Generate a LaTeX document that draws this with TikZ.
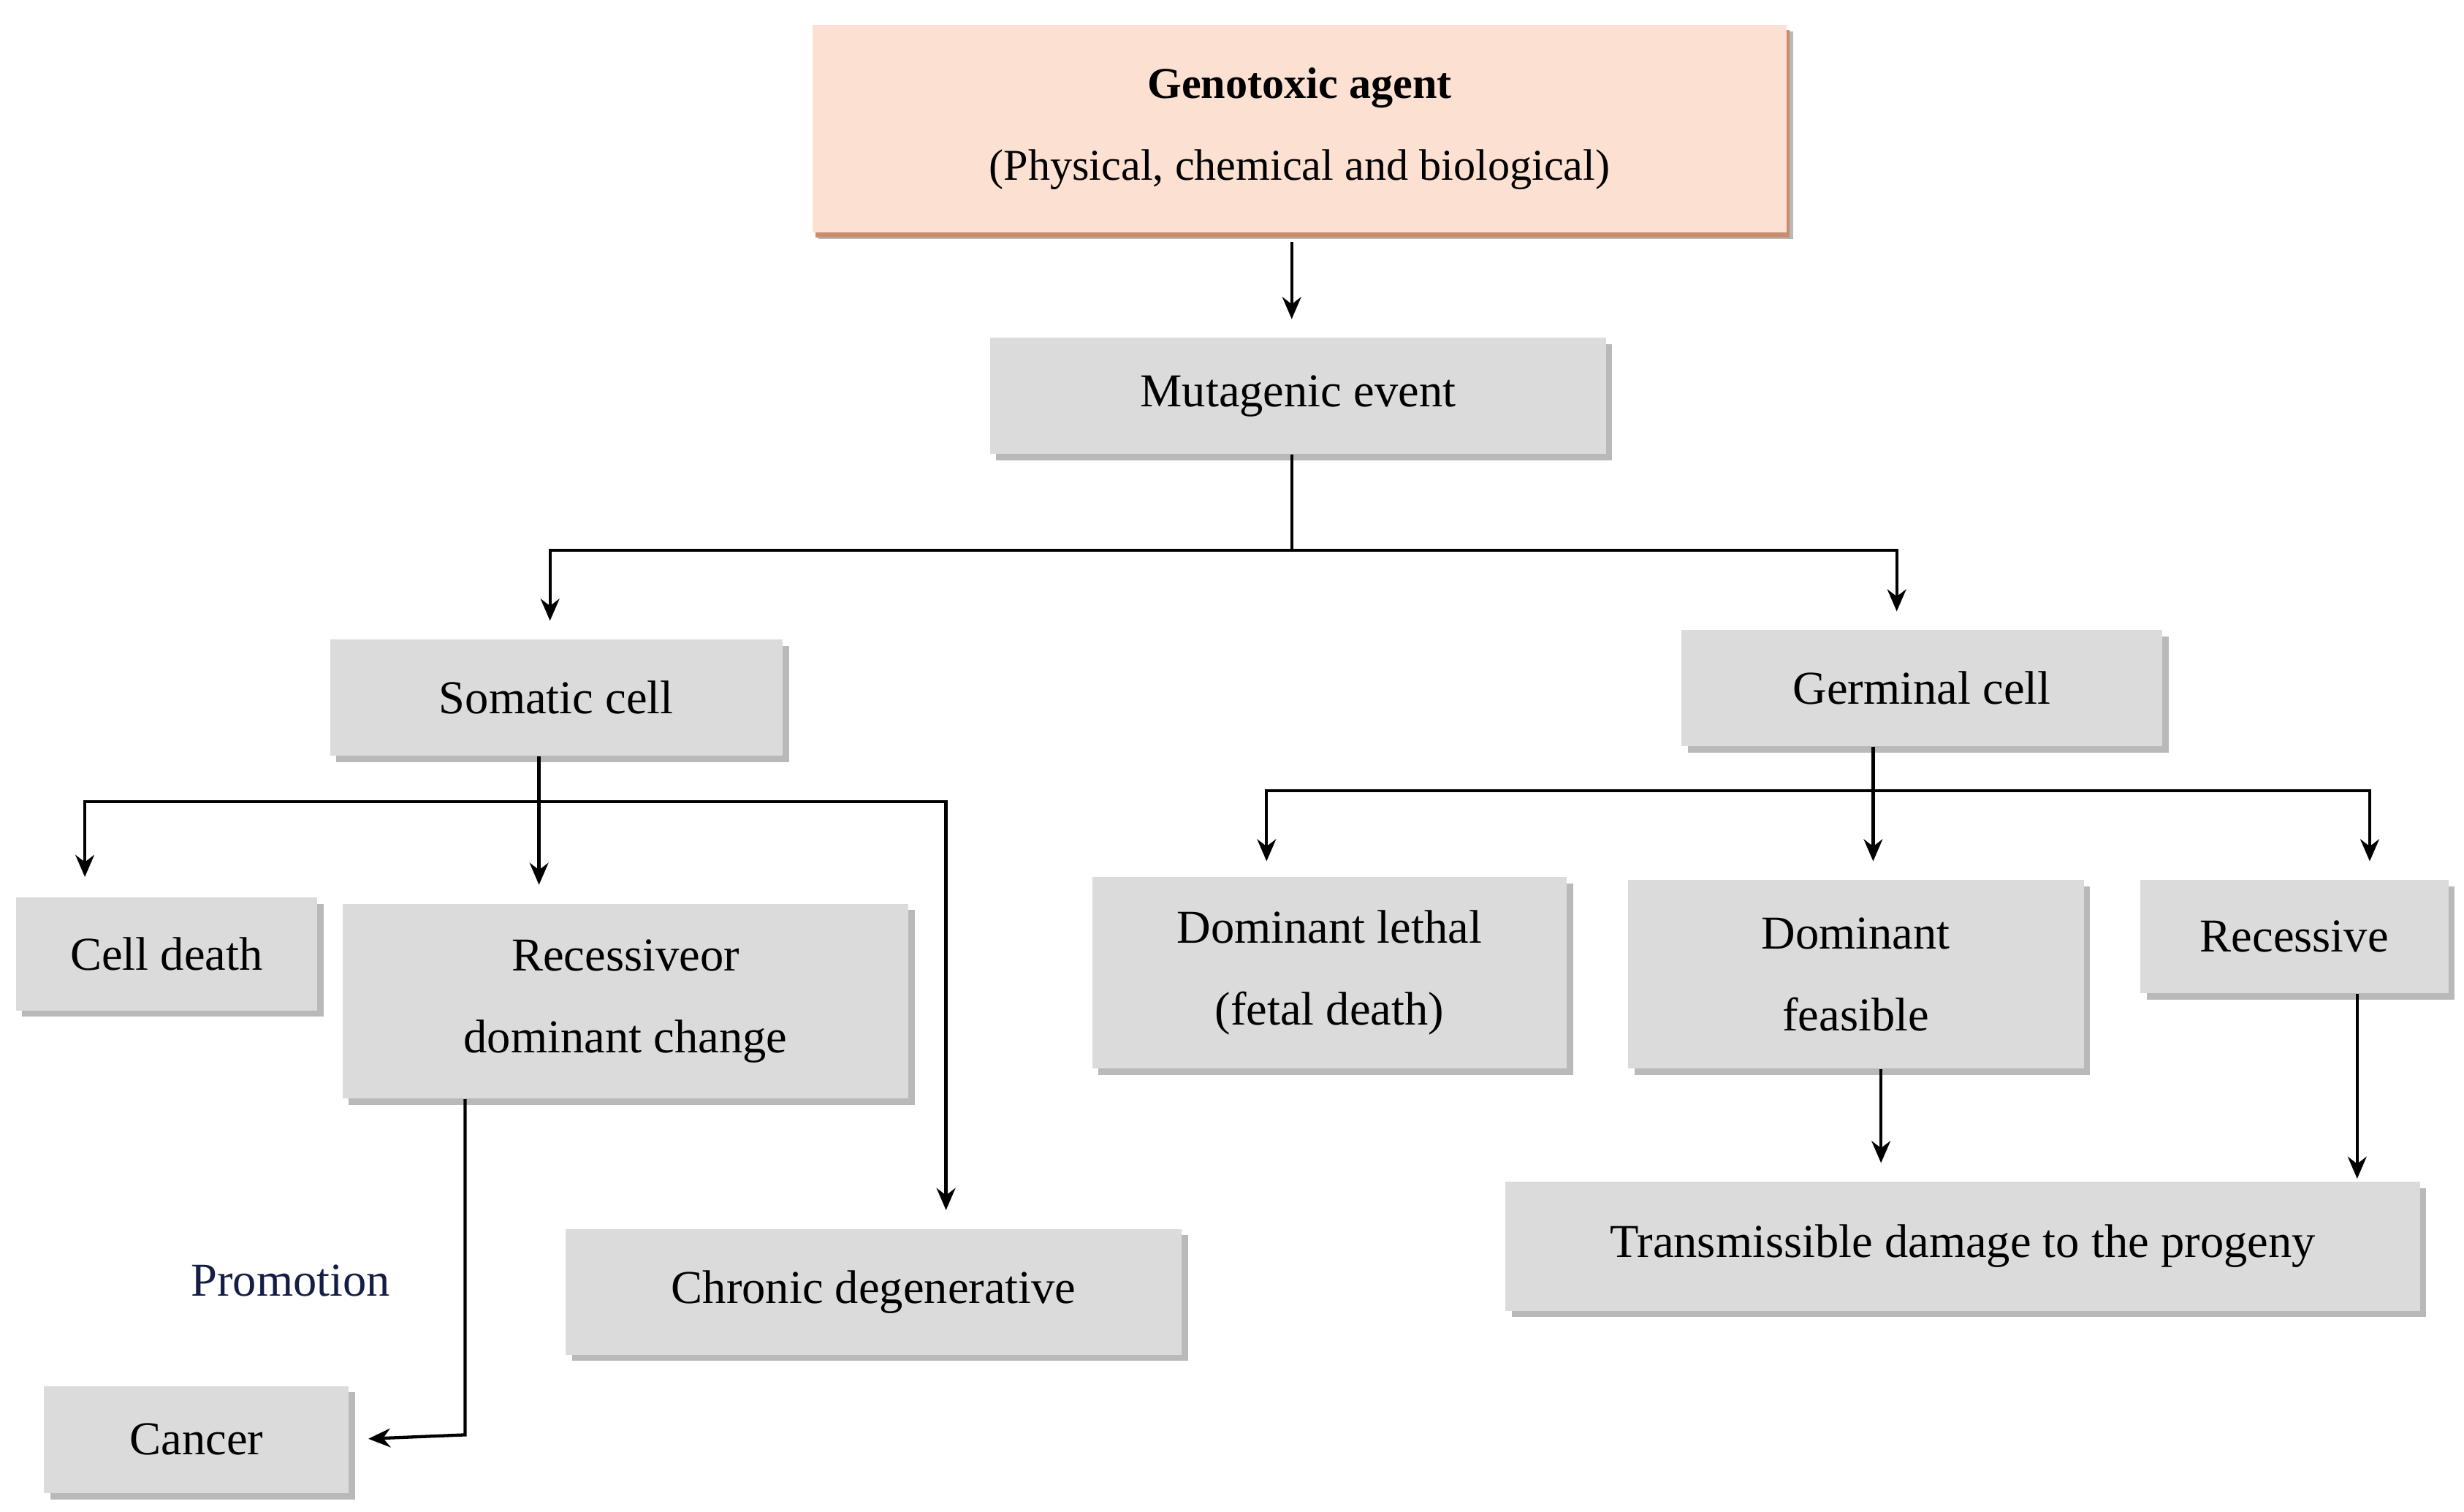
\documentclass[tikz,border=0pt]{standalone}
\usepackage{fontspec}
\setmainfont{Liberation Serif}
\usetikzlibrary{shadows,arrows.meta}
\begin{document}
\begin{tikzpicture}[x=0.5pt,y=-0.5pt,
 box/.style={fill=gray!28,inner sep=0pt,align=center,font=\fontsize{15}{26}\selectfont,
   drop shadow={shadow xshift=2pt,shadow yshift=-2pt,fill=gray!55,opacity=1}},
 arr/.style={-{Stealth[length=7pt,width=6pt]},line width=1pt,shorten >=6pt},
 ln/.style={line width=1pt}]
\useasboundingbox (0,0) rectangle (1568,962);
\node[box,fill={rgb,255:red,252;green,224;blue,210},minimum width=310pt,minimum height=66pt,
 drop shadow={shadow xshift=1pt,shadow yshift=-1.5pt,fill={rgb,255:red,200;green,140;blue,110},opacity=1},
 font=\fontsize{14}{26}\selectfont] (gen) at (827,82) {\textbf{Genotoxic agent}\\(Physical, chemical and biological)};
\node[box,minimum width=196pt,minimum height=37pt] (mut) at (826,252) {Mutagenic event};
\node[box,minimum width=144pt,minimum height=37pt] (som) at (354,444) {Somatic cell};
\node[box,minimum width=153pt,minimum height=37pt] (ger) at (1223,438) {Germinal cell};
\node[box,minimum width=96pt,minimum height=36pt] (cd) at (106,607) {Cell death};
\node[box,minimum width=180pt,minimum height=62pt] (rdc) at (398,637) {Recessiveor\\dominant change};
\node[box,minimum width=196pt,minimum height=40pt] (chr) at (556,822) {Chronic degenerative};
\node[box,minimum width=97pt,minimum height=34pt] (can) at (125,916) {Cancer};
\node[font=\fontsize{15}{18}\selectfont,text={rgb,255:red,20;green,30;blue,70}] (pro) at (185,815) {Promotion};
\node[box,minimum width=151pt,minimum height=61pt] (dl) at (846,619) {Dominant lethal\\(fetal death)};
\node[box,minimum width=145pt,minimum height=60pt] (df) at (1181,620) {Dominant\\feasible};
\node[box,minimum width=98pt,minimum height=36pt] (rec) at (1460,596) {Recessive};
\node[box,minimum width=291pt,minimum height=41pt] (tr) at (1249,793) {Transmissible damage to the progeny};
% connectors
\coordinate (c1) at (822,350);
\coordinate (c1l) at (350,350); \coordinate (c1r) at (1207,350);
\coordinate (t1l) at (350,407); \coordinate (t1r) at (1207,401);
\draw[arr,shorten <=2pt] (822,150) -- (822,215);
\draw[ln] (mut.south -| c1) -- (c1);
\draw[arr] (c1) -- (c1l) -- (t1l);
\draw[arr] (c1) -- (c1r) -- (t1r);
\coordinate (c2) at (343,510);
\draw[ln] (som.south -| c2) -- (c2);
\draw[arr] (c2) -- (54,510) -- (54,570);
\draw[arr] (c2) -- (343,575);
\draw[arr] (c2) -- (602,510) -- (602,782);
\coordinate (c3) at (296,913);
\draw[arr] (rdc.south -| c3) -- (c3) -- (can.east);
\coordinate (c4) at (1192,503);
\draw[ln] (ger.south -| c4) -- (c4);
\draw[arr] (c4) -- (806,503) -- (806,560);
\draw[arr] (c4) -- (1192,560);
\draw[arr] (c4) -- (1508,503) -- (1508,560);
\draw[arr] (df.south -| 1197,0) -- (1197,752);
\draw[arr] (rec.south -| 1500,0) -- (1500,762);
\end{tikzpicture}
\end{document}
